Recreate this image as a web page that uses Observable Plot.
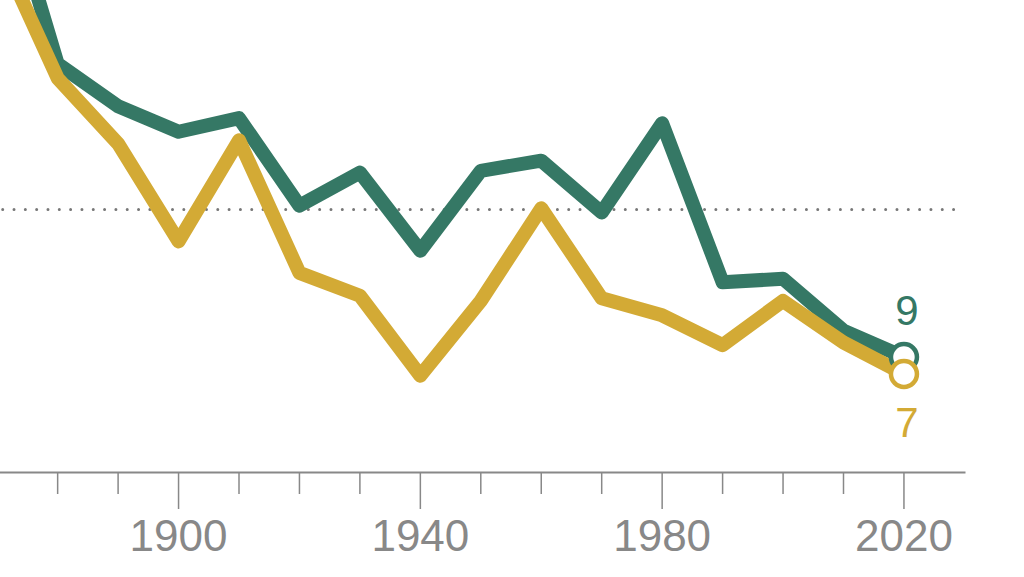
<!DOCTYPE html>
<html>
<head>
<meta charset="utf-8">
<script src="https://cdn.jsdelivr.net/npm/d3@7"></script>
<script src="https://cdn.jsdelivr.net/npm/@observablehq/plot@0.6"></script>
<style>
  html, body { margin: 0; padding: 0; background: #fff; overflow: hidden; }
  #chart svg { display: block; }
</style>
</head>
<body>
<div id="chart"></div>
<script>
// ---- data ----
const years = [1870, 1880, 1890, 1900, 1910, 1920, 1930, 1940, 1950, 1960, 1970, 1980, 1990, 2000, 2010, 2020];
const greenValues = [67.3, 43.5, 38.5, 35.5, 37.1, 26.8, 30.7, 21.5, 30.9, 32.1, 26.0, 36.5, 17.8, 18.2, 12.1, 9];
const goldValues  = [57.4, 41.8, 34.1, 22.6, 34.5, 18.9, 16.2, 6.8, 15.6, 26.5, 15.9, 13.9, 10.4, 15.6, 10.7, 7];
const referenceValue = 26.35;
const minorTicks = [1880, 1890, 1910, 1920, 1930, 1950, 1960, 1970, 1990, 2000, 2010];
const majorTicks = [1900, 1940, 1980, 2020];
const endLabels = ["9", "7"];

const greenColor = "#357865";
const goldColor = "#d3aa35";

const greenRows = years.map((year, i) => ({year, value: greenValues[i]}));
const goldRows = years.map((year, i) => ({year, value: goldValues[i]}));
const last = years.length - 1;
const greenEnd = [{year: years[last], value: greenValues[last], label: endLabels[0]}];
const goldEnd = [{year: years[last], value: goldValues[last], label: endLabels[1]}];

const chart = Plot.plot({
  width: 1024,
  height: 577,
  marginTop: 0,
  marginLeft: 0,
  marginRight: 60,
  marginBottom: 105,
  x: {domain: [1870, 2030], range: [-3.3, 963.9], axis: null, label: null},
  y: {domain: [0, 50], range: [433, 8], axis: null, label: null},
  style: {background: "#fff", fontFamily: "'Liberation Sans', Arial, sans-serif"},
  marks: [
    Plot.ruleY([referenceValue], {
      stroke: "#777", strokeWidth: 3, strokeDasharray: "0,11.32",
      strokeLinecap: "round", strokeDashoffset: -2.7
    }),
    Plot.axisX(minorTicks, {tickSize: 22, tickFormat: () => "", label: null, color: "#888", strokeWidth: 1.5}),
    Plot.axisX(majorTicks, {
      tickSize: 37, tickPadding: 10, fontSize: 44, color: "#888", label: null,
      strokeWidth: 1.5, tickFormat: d => String(d)
    }),
    Plot.frame({anchor: "bottom", stroke: "#888", strokeWidth: 2}),
    Plot.line(greenRows, {
      x: "year", y: "value", stroke: greenColor, strokeWidth: 14,
      strokeLinejoin: "round", strokeLinecap: "round"
    }),
    Plot.line(goldRows, {
      x: "year", y: "value", stroke: goldColor, strokeWidth: 14,
      strokeLinejoin: "round", strokeLinecap: "round"
    }),
    Plot.dot(greenEnd, {x: "year", y: "value", r: 13, fill: "#fff", stroke: greenColor, strokeWidth: 4.5}),
    Plot.dot(goldEnd, {x: "year", y: "value", r: 13, fill: "#fff", stroke: goldColor, strokeWidth: 4.5}),
    Plot.text(greenEnd, {
      x: "year", y: "value", text: "label", lineAnchor: "bottom",
      dy: -32, dx: 3, fontSize: 42, fill: greenColor
    }),
    Plot.text(goldEnd, {
      x: "year", y: "value", text: "label", lineAnchor: "top",
      dy: 33, dx: 3, fontSize: 42, fill: goldColor
    })
  ]
});
document.getElementById("chart").appendChild(chart);
</script>
</body>
</html>
